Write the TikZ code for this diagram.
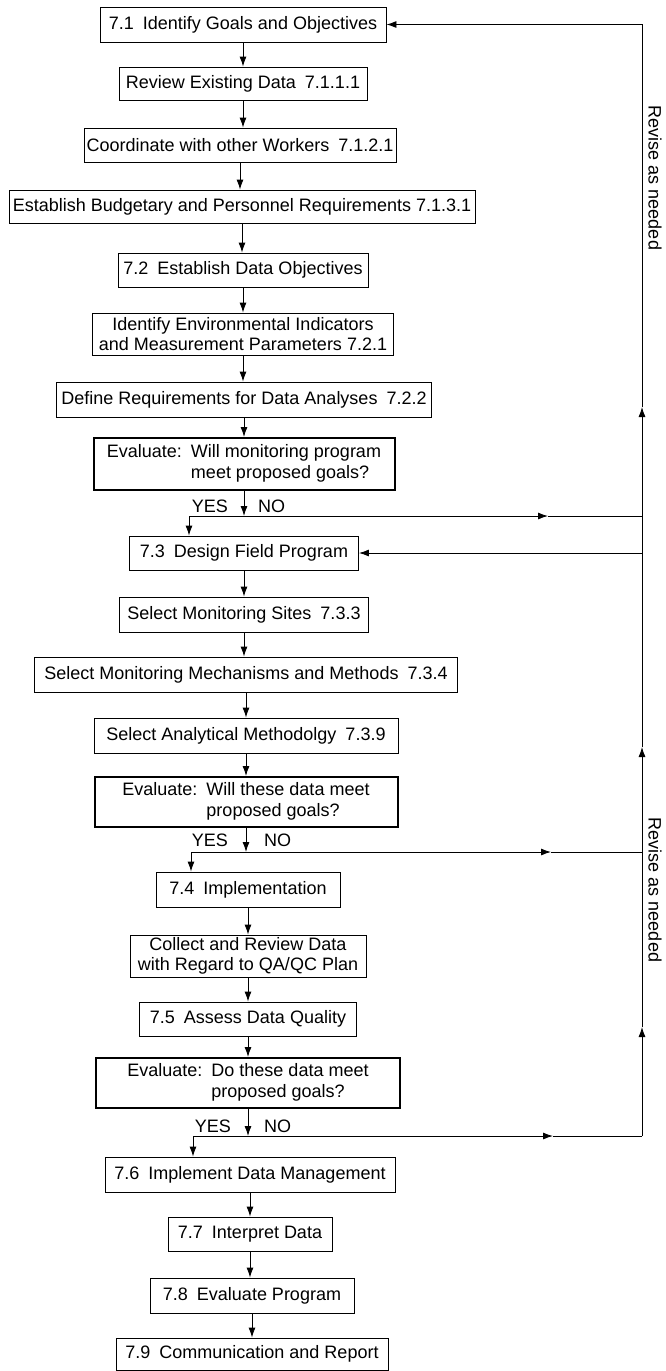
\documentclass[tikz,border=0pt]{standalone}
\usepackage{fontspec}
\setmainfont{Liberation Sans}
\usetikzlibrary{arrows.meta}
\begin{document}
\begin{tikzpicture}[x=1pt,y=-1pt,
  box/.style={draw, line width=0.9pt, inner sep=0pt, align=center, font=\fontsize{18}{20.5}\selectfont},
  evalbox/.style={box, line width=2pt},
  arr/.style={-{Latex[length=10pt,width=7pt]}, line width=0.9pt},
  ln/.style={line width=0.9pt},
  lbl/.style={font=\fontsize{18}{20}\selectfont, inner sep=0pt}]
\useasboundingbox (0,0) rectangle (666,1371);
% boxes
\node[box, minimum width=286, minimum height=35] (b71) at (243,24.5) {7.1\enspace Identify Goals and Objectives};
\node[box, minimum width=248, minimum height=33] (brev) at (243,83.5) {Review Existing Data\enspace 7.1.1.1};
\node[box, minimum width=312, minimum height=34] (bcoo) at (240,145) {Coordinate with other Workers\enspace 7.1.2.1};
\node[box, minimum width=466, minimum height=33] (bbud) at (242,206.5) {Establish Budgetary and Personnel Requirements 7.1.3.1};
\node[box, minimum width=250, minimum height=34] (b72) at (243,270) {7.2\enspace Establish Data Objectives};
\node[box, minimum width=301, minimum height=42] (benv) at (243,334) {Identify Environmental Indicators\\and Measurement Parameters 7.2.1};
\node[box, minimum width=375, minimum height=35] (bdef) at (244,399.5) {Define Requirements for Data Analyses\enspace 7.2.2};
\node[evalbox, minimum width=301, minimum height=52] (ev1) at (244,464) {\begin{tabular}{@{}l@{\enspace}l@{}}Evaluate: & Will monitoring program\\ & meet proposed goals?\end{tabular}};
\node[box, minimum width=229, minimum height=34] (b73) at (244,553) {7.3\enspace Design Field Program};
\node[box, minimum width=249, minimum height=35] (bsit) at (244,614.5) {Select Monitoring Sites\enspace 7.3.3};
\node[box, minimum width=423, minimum height=35] (bmec) at (246,674.5) {Select Monitoring Mechanisms and Methods\enspace 7.3.4};
\node[box, minimum width=304, minimum height=35] (bana) at (246,735.5) {Select Analytical Methodolgy\enspace 7.3.9};
\node[evalbox, minimum width=303, minimum height=50] (ev2) at (246,802) {\begin{tabular}{@{}l@{\enspace}l@{}}Evaluate: & Will these data meet\\ & proposed goals?\end{tabular}};
\node[box, minimum width=184, minimum height=35] (b74) at (248,889.5) {7.4\enspace Implementation};
\node[box, minimum width=236, minimum height=42] (bcol) at (248,956) {Collect and Review Data\\with Regard to QA/QC Plan};
\node[box, minimum width=217, minimum height=34] (b75) at (248,1019) {7.5\enspace Assess Data Quality};
\node[evalbox, minimum width=304, minimum height=50] (ev3) at (248,1083) {\begin{tabular}{@{}l@{\enspace}l@{}}Evaluate: & Do these data meet\\ & proposed goals?\end{tabular}};
\node[box, minimum width=290, minimum height=35] (b76) at (250,1174.5) {7.6\enspace Implement Data Management};
\node[box, minimum width=164, minimum height=34] (b77) at (250,1234) {7.7\enspace Interpret Data};
\node[box, minimum width=204, minimum height=35] (b78) at (252,1295.5) {7.8\enspace Evaluate Program};
\node[box, minimum width=272, minimum height=32] (b79) at (252,1354) {7.9\enspace Communication and Report};
% straight arrows
\foreach \a/\b in {b71/brev, brev/bcoo, bcoo/bbud, bbud/b72, b72/benv, benv/bdef, bdef/ev1,
                   b73/bsit, bsit/bmec, bmec/bana, bana/ev2,
                   b74/bcol, bcol/b75, b75/ev3,
                   b76/b77, b77/b78, b78/b79}
  \draw[arr] (\a.south) -- (\a.south |- \b.north);
% right side coordinates
\coordinate (r1) at (642,516);
\coordinate (r2) at (642,852);
\coordinate (r3) at (642,1136);
\coordinate (c1) at (189,516);
\coordinate (c2) at (191,852);
\coordinate (c3) at (193,1136);
\coordinate (h1) at (548,516);
\coordinate (h2) at (551,852);
\coordinate (h3) at (553,1136);
\coordinate (m1) at (642,407);
\coordinate (m2) at (642,747);
\coordinate (m3) at (642,1027);
\coordinate (top) at (642,24.5);
% decision branches
\draw[arr] (ev1.south) -- (ev1.south |- r1);
\draw[arr] (ev2.south) -- (ev2.south |- r2);
\draw[arr] (ev3.south) -- (ev3.south |- r3);
\node[lbl, anchor=east] (y1) at ([xshift=-16pt]ev1.south |- 0,506) {YES};
\node[lbl, anchor=west] (n1) at ([xshift=14pt]ev1.south |- 0,506) {NO};
\node[lbl, anchor=east] (y2) at ([xshift=-18pt]ev2.south |- 0,840) {YES};
\node[lbl, anchor=west] (n2) at ([xshift=18pt]ev2.south |- 0,840) {NO};
\node[lbl, anchor=east] (y3) at ([xshift=-17pt]ev3.south |- 0,1126) {YES};
\node[lbl, anchor=west] (n3) at ([xshift=16pt]ev3.south |- 0,1126) {NO};
% yes paths
\draw[arr] (c1) -- (c1 |- b73.north);
\draw[ln] (ev1.south |- r1) -- (c1);
\draw[arr] (c2) -- (c2 |- b74.north);
\draw[ln] (ev2.south |- r2) -- (c2);
\draw[arr] (c3) -- (c3 |- b76.north);
\draw[ln] (ev3.south |- r3) -- (c3);
% no paths
\draw[arr] (ev1.south |- r1) -- (h1);
\draw[ln] (h1) -- (r1);
\draw[arr] (ev2.south |- r2) -- (h2);
\draw[ln] (h2) -- (r2);
\draw[arr] (ev3.south |- r3) -- (h3);
\draw[ln] (h3) -- (r3);
% return line
\draw[arr] (r3) -- (m3);
\draw[arr] (m3) -- (m2);
\draw[arr] (m2) -- (m1);
\draw[arr] (m1) -- (top) -- (b71.east);
\draw[arr] (b73.east -| r1) -- (b73.east);
% side labels
\node[lbl, rotate=-90] (rv1) at (655,178) {Revise as needed};
\node[lbl, rotate=-90] (rv2) at (655,890) {Revise as needed};
\end{tikzpicture}
\end{document}
